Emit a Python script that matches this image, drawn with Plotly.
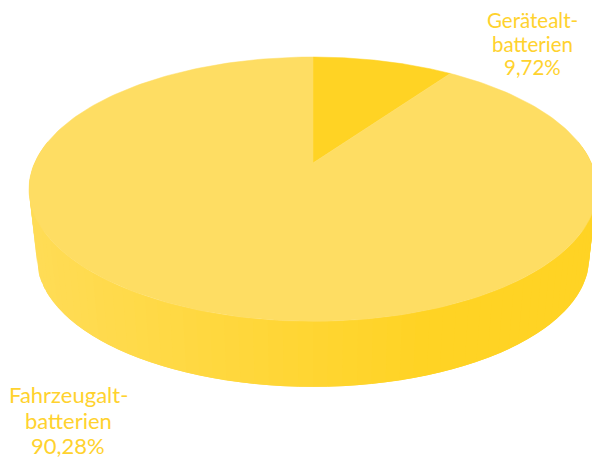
import numpy as np
import plotly.graph_objects as go

categories = [["Gerätealt-", "batterien"], ["Fahrzeugalt-", "batterien"]]
shares = [9.72, 90.28]
slice_colors = ["#FFD324", "#FEDD63"]
text_color = "#FFD22E"
label_x = [532, 68]
label_y = [[20, 43.5, 67], [394, 420, 445]]
label_size = [20.5, 22]

W, H = 592, 458
CX = 313
K = 0.198


def project(theta, a, b, c):
    """Project a point of the tilted pie disc into pixel coordinates."""
    d = 1 + K * np.cos(theta)
    return CX + a * np.sin(theta) / d, c - b * np.cos(theta) / d


TOP = (278.4, 127.0, 163.0)
BOTTOM = (270.6, 123.4, 233.0)


def mix(t):
    t = min(max(t, 0), 1)
    c0, c1 = (255, 220, 86), (255, 211, 36)
    return "rgb(%d,%d,%d)" % tuple(round(p + (q - p) * t) for p, q in zip(c0, c1))


fig = go.Figure()

# side wall: only the front half of the disc is visible; each strip runs on
# under the next one so that no seams show between them
edges = np.radians(np.linspace(80, 280, 81))
for i in range(len(edges) - 1):
    t0, t1 = edges[i], edges[min(i + 2, len(edges) - 1)]
    ts = np.linspace(t0, t1, 8)
    xt, yt = project(ts, *TOP)
    xb, yb = project(ts[::-1], *BOTTOM)
    xm = float(np.mean(project(edges[i:i + 2], *TOP)[0]))
    col = mix((xm - 30) / (425 - 30))
    fig.add_trace(go.Scatter(
        x=np.r_[xt, xb], y=np.r_[yt, yb], mode="lines", fill="toself",
        fillcolor=col, line=dict(color=col, width=0),
        hoverinfo="skip", showlegend=False))

# top surface: wedges drawn from the shares
cum = np.cumsum([0] + shares) / sum(shares) * 2 * np.pi
for i, lines in enumerate(categories):
    ts = np.linspace(cum[i], cum[i + 1], 240)
    x, y = project(ts, *TOP)
    fig.add_trace(go.Scatter(
        x=np.r_[CX, x, CX], y=np.r_[TOP[2], y, TOP[2]], mode="lines", fill="toself",
        fillcolor=slice_colors[i], line=dict(color=slice_colors[i], width=0.5),
        name="".join(lines), showlegend=False))

# labels: one annotation per line, so each label keeps its own line spacing
for lines, share, lx, ys, size in zip(categories, shares, label_x, label_y, label_size):
    pct = f"{share:.2f}".replace(".", ",") + "%"
    for text, ly in zip(lines + [pct], ys):
        fig.add_annotation(x=lx, y=ly, xref="x", yref="y", text=text,
                           showarrow=False, align="center",
                           font=dict(family="Lato", size=size, color=text_color))

fig.update_layout(
    width=W, height=H, margin=dict(l=0, r=0, t=0, b=0),
    paper_bgcolor="white", plot_bgcolor="white", showlegend=False,
    xaxis=dict(range=[0, W], visible=False, fixedrange=True),
    yaxis=dict(range=[H, 0], visible=False, fixedrange=True),
)
fig.write_html("out.html", config={"displayModeBar": False},
               post_script="document.body.style.margin='0';")
